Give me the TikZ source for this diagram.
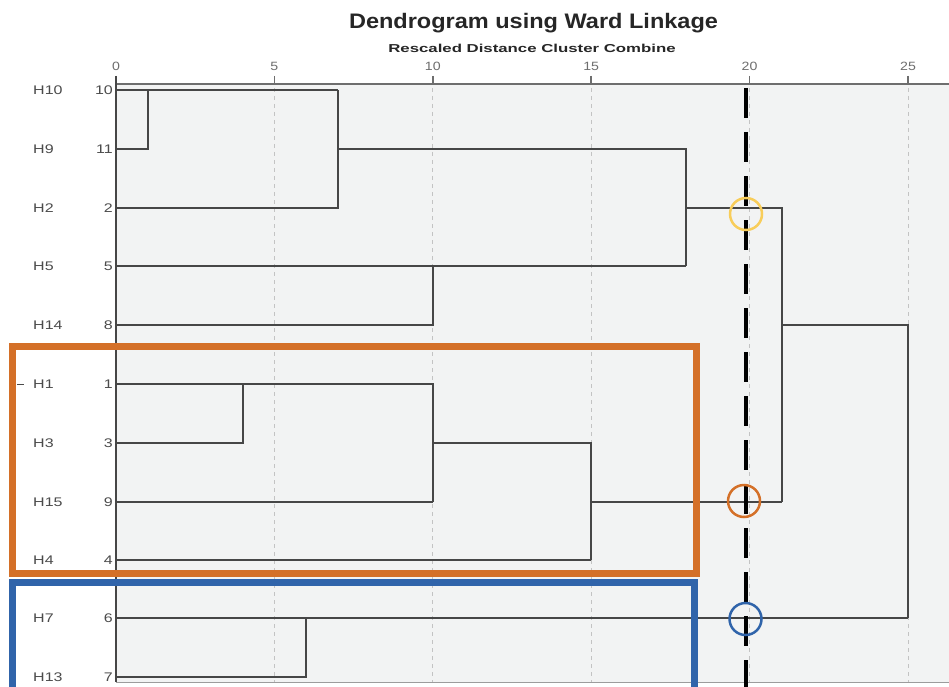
\documentclass[tikz,border=0pt]{standalone}
\usepackage{fontspec}
\setmainfont{Liberation Sans}
\usepackage{graphicx}
\usepackage{tikz}
\usetikzlibrary{positioning, calc}

\definecolor{plotbg}{RGB}{242,243,243}
\definecolor{linegray}{RGB}{70,70,70}
\definecolor{gridgray}{RGB}{195,195,195}
\definecolor{labgray}{RGB}{75,75,75}
\definecolor{tickgray}{RGB}{110,110,110}
\definecolor{clusorange}{RGB}{212,112,40}
\definecolor{clusblue}{RGB}{48,100,170}
\definecolor{cutyellow}{RGB}{248,205,90}

% text in the chart is set a little wider than the font
\newcommand{\rowtxt}[1]{\scalebox{1.28}[1]{#1}}
\newcommand{\ticktxt}[1]{\scalebox{1.18}[1]{#1}}

\begin{document}
\begin{tikzpicture}[
    x=1pt, y=-1pt,
    link/.style={draw=linegray, line width=1.5pt},
    grid/.style={draw=gridgray, line width=0.8pt, dash pattern=on 4pt off 4pt},
    rowlab/.style={anchor=west, inner sep=0pt, text=labgray, font=\fontsize{12.5}{14}\selectfont},
    numlab/.style={anchor=east, inner sep=0pt, text=labgray, font=\fontsize{12.5}{14}\selectfont},
    ticklab/.style={inner sep=0pt, text=tickgray, font=\fontsize{12}{14}\selectfont},
    ring/.style={circle, draw, line width=2.5pt, minimum size=32pt, inner sep=0pt},
    clusbox/.style={draw, line width=7pt}
]
    \useasboundingbox (0,0) rectangle (949,687);
    \clip (0,0) rectangle (949,687);
    \fill[white] (0,0) rectangle (949,687);
    \fill[plotbg] (116,84) rectangle (949,682);

    % Title
    \node[font=\fontsize{21}{25}\selectfont\bfseries, text=black!85, inner sep=0pt] (title) at (533.5,23) {\scalebox{1.12}[1]{Dendrogram using Ward Linkage}};
    \node[font=\fontsize{11.5}{13}\selectfont\bfseries, text=black!85, inner sep=0pt] (subtitle) at (532,48) {\scalebox{1.46}[1]{Rescaled Distance Cluster Combine}};

    % Axis and grid
    \node[ticklab] (t0) at (116,66) {\ticktxt{0}};
    \node[ticklab] (t5) at (274.4,66) {\ticktxt{5}};
    \node[ticklab] (t10) at (432.8,66) {\ticktxt{10}};
    \node[ticklab] (t15) at (591.2,66) {\ticktxt{15}};
    \node[ticklab] (t20) at (749.6,66) {\ticktxt{20}};
    \node[ticklab] (t25) at (908,66) {\ticktxt{25}};
    \draw[grid] (274.4,88) -- (274.4,682);
    \draw[grid] (432.8,88) -- (432.8,682);
    \draw[grid] (591.2,88) -- (591.2,682);
    \draw[grid] (749.6,88) -- (749.6,682);
    \draw[grid] (908,88) -- (908,682);
    \draw[tickgray, line width=1.5pt] (274.4,76) -- (274.4,84) (432.8,76) -- (432.8,84)
        (591.2,76) -- (591.2,84) (749.6,76) -- (749.6,84) (908,76) -- (908,84);
    \draw[tickgray, line width=2pt] (116,84) -- (949,84);
    \draw[gridgray!80!black, line width=1pt] (116,682) -- (949,682);
    \draw[linegray, line width=2pt] (116,76) -- (116,682);

    % Leaves
    \coordinate (H10) at (116,90);
    \coordinate (H9) at (116,149);
    \coordinate (H2) at (116,208);
    \coordinate (H5) at (116,266);
    \coordinate (H14) at (116,325);
    \coordinate (H1) at (116,384);
    \coordinate (H3) at (116,443);
    \coordinate (H15) at (116,502);
    \coordinate (H4) at (116,560);
    \coordinate (H7) at (116,618);
    \coordinate (H13) at (116,677);

    \node[rowlab] (lH10) at (33,90) {\rowtxt{H10}};   \node[numlab] (nH10) at (113,90) {\rowtxt{10}};
    \node[rowlab] (lH9) at (33,149) {\rowtxt{H9}};    \node[numlab] (nH9) at (113,149) {\rowtxt{11}};
    \node[rowlab] (lH2) at (33,208) {\rowtxt{H2}};    \node[numlab] (nH2) at (113,208) {\rowtxt{2}};
    \node[rowlab] (lH5) at (33,266) {\rowtxt{H5}};    \node[numlab] (nH5) at (113,266) {\rowtxt{5}};
    \node[rowlab] (lH14) at (33,325) {\rowtxt{H14}};  \node[numlab] (nH14) at (113,325) {\rowtxt{8}};
    \node[rowlab] (lH1) at (33,384) {\rowtxt{H1}};    \node[numlab] (nH1) at (113,384) {\rowtxt{1}};
    \node[rowlab] (lH3) at (33,443) {\rowtxt{H3}};    \node[numlab] (nH3) at (113,443) {\rowtxt{3}};
    \node[rowlab] (lH15) at (33,502) {\rowtxt{H15}};  \node[numlab] (nH15) at (113,502) {\rowtxt{9}};
    \node[rowlab] (lH4) at (33,560) {\rowtxt{H4}};    \node[numlab] (nH4) at (113,560) {\rowtxt{4}};
    \node[rowlab] (lH7) at (33,618) {\rowtxt{H7}};    \node[numlab] (nH7) at (113,618) {\rowtxt{6}};
    \node[rowlab] (lH13) at (33,677) {\rowtxt{H13}};  \node[numlab] (nH13) at (113,677) {\rowtxt{7}};
    \draw[labgray, line width=1pt] ([xshift=-16pt]lH1.west) -- ([xshift=-9pt]lH1.west);

    % Merge points
    \coordinate (k1) at (148,90);
    \coordinate (k2) at (338,90);
    \coordinate (k3) at (686,266);
    \coordinate (k4) at (433,325);
    \coordinate (k5) at (782,502);
    \coordinate (k6) at (243,443);
    \coordinate (k7) at (433,502);
    \coordinate (k8) at (591,560);
    \coordinate (k9) at (908,618);
    \coordinate (k10) at (306,677);

    % Dendrogram
    \draw[link] (H9) -| (k1);
    \draw[link] (H10) -- (k2);
    \draw[link] (H2) -| (k2);
    \draw[link] (k2 |- H9) -| (k3);
    \draw[link] (H5) -- (k3);
    \draw[link] (H14) -- (k4) -- (k4 |- H5);
    \draw[link] (k3 |- H2) -| (k5);
    \draw[link] (H3) -| (k6 |- H1);
    \draw[link] (H1) -| (k7);
    \draw[link] (H15) -- (k7);
    \draw[link] (k7 |- H3) -| (k8);
    \draw[link] (H4) -- (k8);
    \draw[link] (k8 |- H15) -- (k5);
    \draw[link] (k5 |- H14) -| (k9);
    \draw[link] (H7) -- (k9);
    \draw[link] (H13) -- (k10) -- (k10 |- H7);

    % Cluster boxes
    \draw[clusbox, clusorange] (12,346.5) rectangle (696,573.5);
    \draw[clusbox, clusblue] (12,582.5) rectangle (694.5,695);

    % Cut line and rings
    \coordinate (cuttop) at (745.5,88);
    \coordinate (cutbot) at (745.5,687);
    \draw[black, line width=4pt, dash pattern=on 30pt off 14pt] (cuttop) -- (cutbot);
    \node[ring, draw=cutyellow] (ry) at (746,214) {};
    \node[ring, draw=clusorange] (ro) at (744,501) {};
    \node[ring, draw=clusblue] (rb) at (745.5,619) {};
\end{tikzpicture}
\end{document}
